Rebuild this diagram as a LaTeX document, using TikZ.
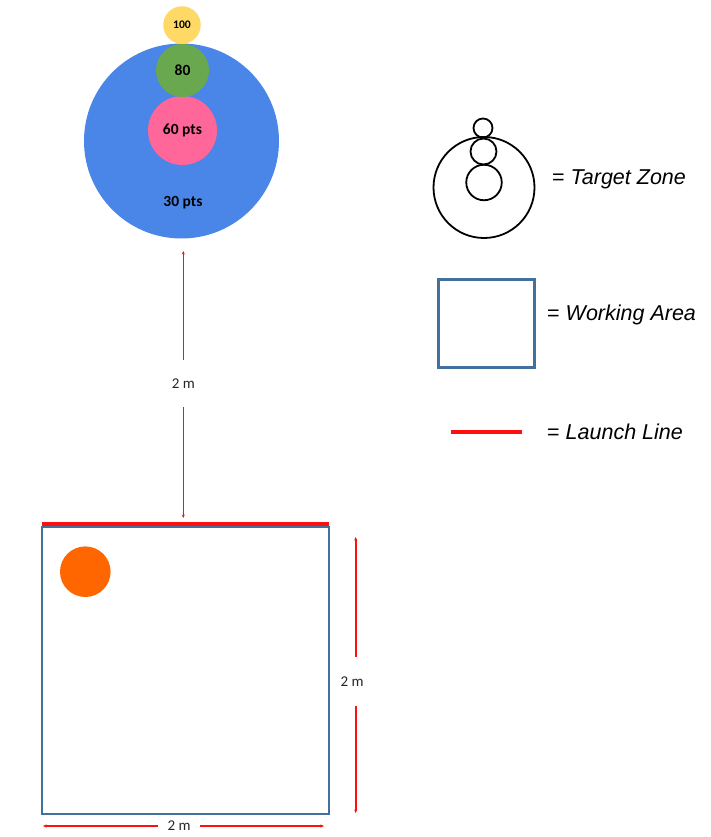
\documentclass[tikz,border=0pt]{standalone}
\usepackage{fontspec}
\setmainfont{Carlito}
\newfontfamily\arialf{Liberation Sans}
\usetikzlibrary{arrows.meta}
\definecolor{tblue}{HTML}{4A86E8}
\definecolor{tyellow}{HTML}{FFD966}
\definecolor{tgreen}{HTML}{6AA84F}
\definecolor{tpink}{HTML}{FF6699}
\definecolor{torange}{HTML}{FF6600}
\definecolor{boxblue}{HTML}{41719C}
\definecolor{dimred}{HTML}{FF1010}
\definecolor{dimtext}{HTML}{262626}
\tikzset{
  disc/.style={circle, inner sep=0pt, draw=none, text=black, font=\bfseries\fontsize{15.5}{18}\selectfont},
  ring/.style={circle, inner sep=0pt, draw=black, line width=1.8pt},
  dimhalf/.style={draw=dimred, line width=1.6pt, -{Stealth[length=3.5pt,width=3pt]}},
  dimlabel/.style={inner sep=0pt, text=dimtext, font=\fontsize{15}{18}\selectfont},
  vlabel/.style={dimlabel, minimum height=47pt},
  hlabel/.style={dimlabel, minimum width=42pt},
  legendtext/.style={anchor=west, inner sep=0pt, font=\arialf\fontsize{21.5}{26}\selectfont},
  workbox/.style={draw=boxblue, line width=2.5pt},
  launch/.style={draw=dimred, line width=4.5pt},
}
\begin{document}
\begin{tikzpicture}[x=1pt,y=-1pt]
\useasboundingbox (0,0) rectangle (711,837);
% target
\node[disc, fill=tblue, minimum size=195pt] (big) at (181.5,141) {};
\node[disc, fill=tpink, minimum size=69pt] (pink) at (182.5,130.5) {60 pts};
\node[disc, fill=tgreen, minimum size=53pt] (green) at (182.5,70.5) {80};
\node[disc, fill=tyellow, minimum size=37.5pt, font=\bfseries\fontsize{11.6}{14}\selectfont] (yellow) at (182,25) {100};
\node[inner sep=0pt, font=\bfseries\fontsize{15.5}{18}\selectfont] (thirty) at (183,203) {30 pts};
% working area
\node[workbox, minimum width=287pt, minimum height=287pt, inner sep=0pt] (area) at (185.5,670.5) {};
\draw[launch] (42,524) coordinate (ll1) -- (329,524) coordinate (ll2);
\node[circle, fill=torange, minimum size=50.6pt, inner sep=0pt] (ball) at (85.3,571.7) {};
% top dimension
\coordinate (t1) at (183.3,251);
\coordinate (t2) at (183.3,518);
\node[vlabel] (dtop) at (183.3,383.5) {2 m};
\draw[dimhalf] (dtop) -- (t1);
\draw[dimhalf] (dtop) -- (t2);
% right dimension
\coordinate (r1) at (355.7,537);
\coordinate (r2) at (355.7,813);
\node[vlabel, minimum height=49pt] (dright) at (355.7,681.5) {\hspace*{-7pt}2 m};
\draw[dimhalf] (dright) -- (r1);
\draw[dimhalf] (dright) -- (r2);
% bottom dimension
\coordinate (b1) at (43,826);
\coordinate (b2) at (324,826);
\node[hlabel] (dbot) at (179,826) {2 m};
\draw[dimhalf] (dbot) -- (b1);
\draw[dimhalf] (dbot) -- (b2);
% legend
\node[ring, minimum size=101pt] (lbig) at (484,187.5) {};
\node[ring, minimum size=19pt] (ltop) at (483,128) {};
\node[ring, minimum size=26pt] (lmid) at (483.5,151.5) {};
\node[ring, minimum size=35.5pt] (llow) at (484,182.5) {};
\node[legendtext] (tz) at (552,179) {= \textit{Target Zone}};
\node[workbox, line width=2.2pt, minimum width=96pt, minimum height=88pt, inner sep=0pt] (lbox) at (486.5,323.5) {};
\node[legendtext] (wa) at (547,315) {= \textit{Working Area}};
\draw[draw=dimred, line width=4pt] (451,432) coordinate (lla) -- (522,432) coordinate (llb);
\node[legendtext] (lltext) at (547,432) {= \textit{Launch Line}};
\end{tikzpicture}
\end{document}
